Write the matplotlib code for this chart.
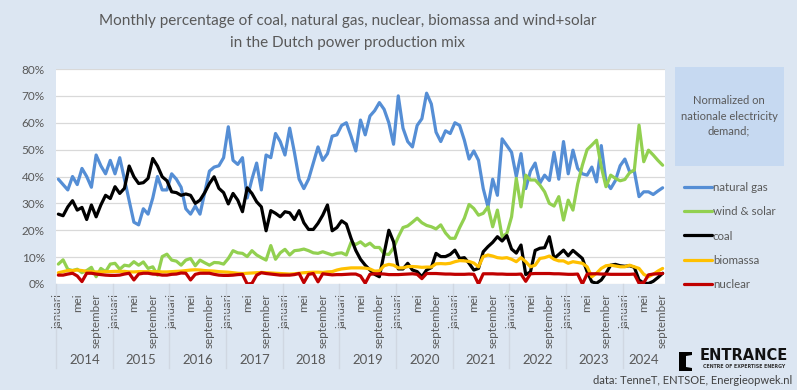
import numpy as np
import matplotlib
matplotlib.use("Agg")
import matplotlib.pyplot as plt
from matplotlib.patches import Rectangle, Polygon
from matplotlib.ticker import PercentFormatter
import matplotlib.transforms as mtransforms

plt.rcParams['font.family'] = ['Lato', 'DejaVu Sans']

# --- data: monthly share (%) Jan 2014 .. Sep 2024 ---
years = [2014, 2015, 2016, 2017, 2018, 2019, 2020, 2021, 2022, 2023, 2024]
month_labels = ['januari', 'mei', 'september']
month_offsets = [0, 4, 8]

natural_gas = [
    39, 37, 35, 40, 37, 43, 40, 36, 48, 44, 41, 46,
    41, 47, 39, 31, 23, 22, 28, 26, 32, 40, 35, 35,
    41, 39, 36, 28, 26, 29, 26, 34, 42, 43.5, 44, 47,
    58.5, 46, 44.5, 47, 32, 39, 45, 35, 48, 47, 56, 53,
    48, 58, 49, 39, 35.5, 39, 45, 51, 46, 48.5, 55, 55.5,
    59, 60, 55, 49.5, 61, 55.5, 62.5, 64.5, 67.5, 65, 60, 52,
    70, 58, 53, 51, 59, 61.5, 71, 67, 56.5, 53, 57, 56,
    60, 59, 53.5, 46.5, 49.5, 46, 35.5, 28.7, 39, 33, 54, 51.5,
    49, 40, 48.5, 35.5, 42, 45, 37.5, 40.5, 38.5, 49, 39, 53,
    41, 49.8, 43, 41, 40.5, 43.5, 38, 51.5, 38, 35.5, 38.5, 44,
    46.5, 41.8, 42, 32.5, 34.3, 34.3, 33.3, 34.6, 35.8,
]
wind_solar = [
    7.4, 9, 5.5, 5, 5.5, 4.2, 5, 6.2, 2.7, 5.8, 4.6, 7.4,
    7.7, 5.5, 7, 6.7, 8.3, 7, 8.2, 5.8, 6.4, 3.3, 10.2, 11.1,
    8.9, 8.5, 7, 8.9, 9.5, 6.8, 8.9, 7.9, 7, 8, 7.9, 7.4,
    9.5, 12.4, 11.6, 11.4, 10.2, 12.4, 10.8, 9.8, 8.9, 14.3, 9.2, 11.6,
    12.9, 10.8, 12.4, 12.6, 13, 12.4, 11.6, 11.4, 12, 11.4, 10.8, 11.4,
    11.6, 10.8, 15.5, 14.7, 15.7, 14.2, 15.2, 13.6, 13.6, 11.2, 11, 13.4,
    17.5, 21, 21.6, 23, 24.5, 22.8, 21.8, 21.3, 20.5, 22, 19, 17,
    17, 21, 24.5, 29.6, 28.1, 25.6, 26.3, 28.7, 21.3, 27.5, 17.6, 18.8,
    25, 39.3, 28.7, 40.5, 38.7, 38.7, 36.8, 34.3, 30, 29, 32.5, 23.8,
    31.2, 27.5, 37.2, 44.2, 50, 51.7, 53.5, 43.6, 36.2, 40.5, 39.3, 38.4,
    38.9, 41.4, 42.4, 59.1, 45.5, 49.8, 48, 46, 44.2,
]
coal = [
    26, 25.4, 28.7, 31, 27.5, 28.5, 24, 29.4, 25, 29.4, 33, 31.8,
    36.2, 33.7, 35.6, 43.9, 39.9, 37.4, 37.7, 39.3, 46.7, 43.9, 39.9, 38.4,
    34.3, 34, 33, 33.5, 33, 30, 31.2, 34, 37.4, 39.9, 35.6, 34,
    29.8, 33.7, 31.2, 26.9, 35.8, 33.7, 30.6, 28.7, 19.8, 27.3, 26.3, 25,
    26.9, 26.5, 24, 27.3, 22.8, 20.3, 20.3, 22.6, 25.6, 29.4, 19.8, 21,
    23.5, 22.3, 17, 12.5, 9.2, 7, 5.2, 3.6, 2.7, 11.4, 20, 15.7,
    5.6, 5.6, 7.7, 5.2, 4.6, 2.7, 5.2, 6.1, 11.4, 10.2, 10.2, 11,
    12.6, 9.5, 9.8, 7.7, 5.2, 5.8, 12, 13.9, 15.5, 17.6, 16, 18,
    13, 11.5, 14.5, 3.5, 4.5, 12.5, 13.3, 13.5, 17.6, 9.5, 11, 12.6,
    10.5, 12.5, 11, 9.5, 4.6, 0.8, 0.3, 1.5, 4, 7, 7.3, 6.8,
    6.6, 6.8, 6.2, 1.5, 0.3, 0.2, 1, 2.4, 4,
]
biomassa = [
    4.2, 4.6, 5, 5, 5.2, 5, 4.7, 4.6, 4.5, 4.5, 4.6, 4.6,
    4.7, 4.7, 4.7, 4.5, 4.5, 4.6, 4.6, 4.6, 4.6, 4.6, 4.5, 4.5,
    4.6, 4.7, 4.8, 5, 5.2, 5.3, 5.2, 5, 4.9, 4.8, 4.6, 4.5,
    4.4, 4.2, 4.0, 3.9, 4.0, 4.1, 4.2, 4.3, 4.2, 4.1, 4.0, 3.9,
    3.8, 3.7, 3.8, 4.0, 4.2, 4.3, 4.4, 4.4, 4.3, 4.5, 4.6, 5.2,
    5.6, 5.8, 6.0, 6.0, 6.0, 5.9, 5.6, 4.8, 4.9, 6.8, 7.3, 7.0,
    6.0, 6.0, 6.5, 6.5, 6.4, 6.2, 6.3, 6.3, 7.5, 7.6, 7.5, 7.7,
    8.3, 8.7, 8.6, 8.4, 7.8, 6.4, 10.2, 10.8, 10.4, 9.8, 9.6, 9.8,
    9.2, 8.3, 9.8, 8.3, 6.4, 7, 9.5, 9.8, 10.4, 9.2, 8.6, 8.6,
    7.7, 8.3, 8, 7.7, 6.4, 2.7, 4, 5.8, 6.8, 7, 6.7, 6.4,
    6.4, 7, 6.4, 5.8, 3.6, 2.7, 3.6, 4.8, 5.8,
]
nuclear = [
    3.3, 3.3, 3.7, 4.0, 3.0, 0.9, 4.0, 4.0, 3.7, 3.5, 3.3, 3.2,
    3.2, 3.3, 3.7, 4.0, 1.5, 3.7, 4.0, 4.0, 3.7, 3.6, 3.3, 3.3,
    3.6, 3.7, 4.1, 4.0, 1.5, 3.6, 4.0, 4.0, 4.0, 3.6, 3.3, 3.2,
    3.2, 3.3, 3.5, 3.6, 0.0, 0.2, 3.3, 4.2, 3.9, 3.7, 3.5, 3.3,
    3.3, 3.3, 3.5, 3.9, 0.5, 3.6, 3.9, 0.8, 3.8, 3.6, 3.4, 3.5,
    3.5, 3.6, 3.7, 3.7, 3.0, 0.3, 3.6, 3.8, 3.8, 3.7, 3.5, 3.5,
    3.5, 3.6, 3.7, 3.8, 3.6, 2.0, 3.9, 3.9, 3.9, 3.8, 3.7, 3.7,
    3.6, 3.6, 3.6, 3.7, 3.6, 0.0, 3.8, 3.8, 3.8, 3.7, 3.7, 3.6,
    3.6, 3.6, 3.7, 1.0, 3.8, 3.9, 3.9, 3.9, 3.9, 3.8, 3.8, 3.7,
    3.6, 3.6, 3.7, 0.0, 3.7, 3.8, 3.8, 3.7, 3.7, 3.6, 3.6, 3.6,
    3.6, 3.6, 3.7, 0.3, 0.5, 3.4, 3.7, 3.8, 3.9,
]

series = [
    ('natural gas', natural_gas, '#558ED5'),
    ('wind & solar', wind_solar, '#92D050'),
    ('coal', coal, '#000000'),
    ('biomassa', biomassa, '#FFC000'),
    ('nuclear', nuclear, '#C00000'),
]

txt = '#595959'
W, H = 797, 390

fig = plt.figure(figsize=(W / 100, H / 100), dpi=100)
fig.patch.set_facecolor('#DCE6F2')

ax = fig.add_axes([56 / W, (H - 284) / H, (665 - 56) / W, (284 - 69) / H])
ax.set_facecolor('white')

x = np.arange(len(natural_gas))
handles = []
for name, vals, col in series:
    ln, = ax.plot(x, vals, color=col, lw=2.3, solid_joinstyle='round',
                  solid_capstyle='round', label=name, clip_on=True)
    handles.append(ln)

ax.set_xlim(-0.5, len(x) - 0.5)
ax.set_ylim(0, 80)
ax.set_yticks(np.arange(0, 81, 10))
ax.yaxis.set_major_formatter(PercentFormatter(decimals=0))
ax.grid(axis='y', color='#D9D9D9', lw=0.9)
ax.set_axisbelow(True)
for s in ax.spines.values():
    s.set_visible(False)
ax.tick_params(axis='y', length=0, pad=8, labelsize=8.5, labelcolor=txt)

# month ticks
ticks, labels = [], []
for k, yr in enumerate(years):
    for off, lab in zip(month_offsets, month_labels):
        pos = 12 * k + off
        if pos < len(x):
            ticks.append(pos)
            labels.append(lab)
ax.set_xticks(ticks)
ax.set_xticklabels(labels, rotation=90, fontsize=8.4, color=txt)
ax.tick_params(axis='x', length=0, pad=7)

# year labels and separators
trans = mtransforms.blended_transform_factory(ax.transData, ax.transAxes)
for k, yr in enumerate(years):
    start = 12 * k - 0.5
    end = min(12 * k + 11.5, len(x) - 0.5)
    ax.plot([start, start], [0, -0.39], color='#D0D7E2', lw=1,
            transform=trans, clip_on=False)
    ax.text((start + end) / 2, -0.355, str(yr), transform=trans,
            ha='center', va='center', fontsize=9.5, color=txt)

# title
fig.text(348 / W, 1 - 21 / H, 'Monthly percentage of coal, natural gas, nuclear, biomassa and wind+solar',
         ha='center', va='center', fontsize=11, color=txt)
fig.text(348 / W, 1 - 43.5 / H, 'in the Dutch power production mix',
         ha='center', va='center', fontsize=11, color=txt)

# note box
fig.patches.append(Rectangle((675 / W, 1 - 166 / H), 109 / W, 99 / H,
                             transform=fig.transFigure, facecolor='#C6D9F1',
                             edgecolor='none'))
fig.text(729 / W, 1 - 116 / H, 'Normalized on\nnationale electricity\ndemand;',
         ha='center', va='center', fontsize=8, color=txt, linespacing=1.45)

leg = fig.legend(handles=handles, loc='upper left',
                 bbox_to_anchor=(684 / W, 1 - 182 / H), frameon=False,
                 fontsize=8.3, handlelength=2.4, handletextpad=0.1,
                 labelspacing=1.15, borderpad=0, borderaxespad=0,
                 labelcolor=txt)

# logo
fig.patches.append(Polygon([(679 / W, 1 - 352 / H), (692 / W, 1 - 352 / H),
                            (692 / W, 1 - 355 / H), (686 / W, 1 - 356 / H),
                            (686 / W, 1 - 367 / H), (692 / W, 1 - 368 / H),
                            (692 / W, 1 - 371 / H), (679 / W, 1 - 371 / H)],
                           closed=True, transform=fig.transFigure,
                           facecolor='black', edgecolor='none'))
fig.text(744 / W, 1 - 355 / H, 'ENTRANCE', ha='center', va='center',
         fontsize=10.5, fontweight='bold', family='DejaVu Sans', color='#111111')
fig.text(744 / W, 1 - 366 / H, 'CENTRE OF EXPERTISE ENERGY', ha='center',
         va='center', fontsize=3.4, fontweight='bold', family='DejaVu Sans',
         color='#333333')
fig.text(792 / W, 1 - 381 / H, 'data: TenneT, ENTSOE, Energieopwek.nl',
         ha='right', va='center', fontsize=8, color='#404040')

fig.savefig('out.png', dpi=100, facecolor=fig.get_facecolor())
